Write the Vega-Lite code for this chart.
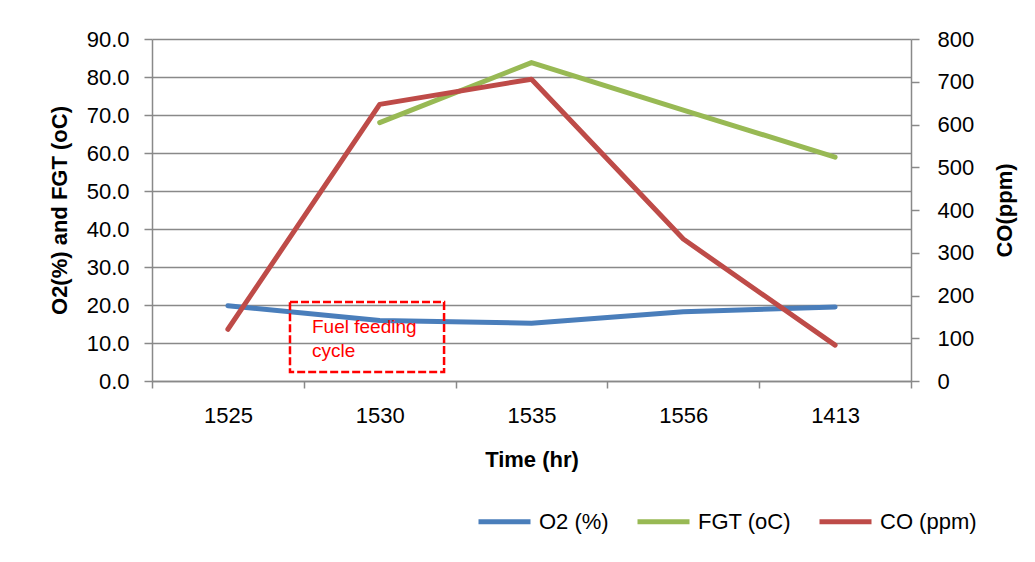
{
  "$schema": "https://vega.github.io/schema/vega-lite/v6.json",
  "width": 759,
  "height": 342,
  "autosize": {"type": "none"},
  "padding": {"left": 152, "top": 39, "right": 124, "bottom": 181},
  "background": "white",
  "config": {
    "view": {"stroke": null},
    "font": "Liberation Sans",
    "axis": {
      "labelFont": "Liberation Sans",
      "titleFont": "Liberation Sans",
      "labelFontSize": 22,
      "titleFontSize": 22,
      "titleFontWeight": "bold",
      "labelColor": "#000000",
      "titleColor": "#000000",
      "domainColor": "#898989",
      "tickColor": "#898989",
      "gridColor": "#898989",
      "domainWidth": 1.5,
      "tickWidth": 1.5,
      "gridWidth": 1.5
    },
    "legend": {"labelFont": "Liberation Sans", "labelColor": "#000000"}
  },
  "datasets": {
    "series": [
      {"time": "1525", "series": "O2 (%)", "value": 19.8},
      {"time": "1530", "series": "O2 (%)", "value": 15.9},
      {"time": "1535", "series": "O2 (%)", "value": 15.2},
      {"time": "1556", "series": "O2 (%)", "value": 18.2},
      {"time": "1413", "series": "O2 (%)", "value": 19.5},
      {"time": "1530", "series": "FGT (oC)", "value": 68.0},
      {"time": "1535", "series": "FGT (oC)", "value": 83.8},
      {"time": "1556", "series": "FGT (oC)", "value": 71.3},
      {"time": "1413", "series": "FGT (oC)", "value": 58.9},
      {"time": "1525", "series": "CO (ppm)", "value": 121},
      {"time": "1530", "series": "CO (ppm)", "value": 647},
      {"time": "1535", "series": "CO (ppm)", "value": 706},
      {"time": "1556", "series": "CO (ppm)", "value": 332},
      {"time": "1413", "series": "CO (ppm)", "value": 84}
    ],
    "box": [
      {"x1": 0.909, "x2": 1.924, "y1": 20.8, "y2": 2.37}
    ],
    "note": [
      {"tx": 1.054, "ty": 12.6, "label": "Fuel feeding"},
      {"tx": 1.054, "ty": 6.2, "label": "cycle"}
    ]
  },
  "layer": [
    {
      "data": {"name": "series"},
      "transform": [{"filter": "datum.series !== 'CO (ppm)'"}],
      "mark": {"type": "line", "strokeWidth": 5, "strokeCap": "round", "strokeJoin": "round"},
      "encoding": {
        "x": {
          "field": "time", "type": "ordinal",
          "sort": ["1525", "1530", "1535", "1556", "1413"],
          "scale": {"type": "band", "paddingInner": 0, "paddingOuter": 0},
          "bandPosition": 0.5,
          "axis": {
            "title": "Time (hr)", "tickBand": "extent", "tickSize": 7,
            "labelPadding": 17, "labelAngle": 0, "grid": false,
            "titleY": 85, "titleBaseline": "alphabetic"
          }
        },
        "y": {
          "field": "value", "type": "quantitative",
          "scale": {"domain": [0, 90], "nice": false},
          "axis": {
            "title": "O2(%) and FGT (oC)",
            "values": [0, 10, 20, 30, 40, 50, 60, 70, 80, 90],
            "format": ".1f", "grid": true, "tickSize": 8, "labelPadding": 15,
            "titleAngle": -90, "titleX": -93, "titleY": 171,
            "titleBaseline": "middle", "titleAlign": "center"
          }
        },
        "color": {
          "field": "series", "type": "nominal",
          "scale": {"domain": ["O2 (%)", "FGT (oC)", "CO (ppm)"], "range": ["#4A7EBB", "#98B954", "#BE4B48"]},
          "legend": {
            "orient": "none", "legendX": 324, "legendY": 454, "direction": "horizontal",
            "title": null, "symbolType": "stroke", "symbolSize": 2704, "symbolStrokeWidth": 5,
            "labelFontSize": 22, "labelOffset": 6, "columnPadding": 18
          }
        },
        "order": {"value": null}
      }
    },
    {
      "data": {"name": "series"},
      "transform": [{"filter": "datum.series === 'CO (ppm)'"}],
      "mark": {"type": "line", "strokeWidth": 5, "strokeCap": "round", "strokeJoin": "round"},
      "encoding": {
        "x": {
          "field": "time", "type": "ordinal",
          "sort": ["1525", "1530", "1535", "1556", "1413"],
          "scale": {"type": "band", "paddingInner": 0, "paddingOuter": 0},
          "bandPosition": 0.5,
          "axis": null
        },
        "y": {
          "field": "value", "type": "quantitative",
          "scale": {"domain": [0, 800], "nice": false},
          "axis": {
            "orient": "right", "title": "CO(ppm)",
            "values": [0, 100, 200, 300, 400, 500, 600, 700, 800],
            "format": "d", "grid": false, "tickSize": 8, "labelPadding": 18,
            "titleAngle": -90, "titleX": 93, "titleY": 171,
            "titleBaseline": "middle", "titleAlign": "center"
          }
        },
        "color": {"field": "series", "type": "nominal"},
        "order": {"value": null}
      }
    },
    {
      "data": {"name": "box"},
      "mark": {"type": "rect", "fill": null, "stroke": "#FF0000", "strokeWidth": 2.5, "strokeDash": [8, 3]},
      "encoding": {
        "x": {"field": "x1", "type": "quantitative", "scale": {"domain": [0, 5], "nice": false, "zero": false}, "axis": null},
        "x2": {"field": "x2"},
        "y": {"field": "y1", "type": "quantitative", "scale": {"domain": [0, 90], "nice": false}, "axis": null},
        "y2": {"field": "y2"}
      }
    },
    {
      "data": {"name": "note"},
      "mark": {"type": "text", "align": "left", "baseline": "alphabetic", "color": "#FF0000", "fontSize": 19, "font": "Liberation Sans"},
      "encoding": {
        "x": {"field": "tx", "type": "quantitative", "scale": {"domain": [0, 5], "nice": false, "zero": false}, "axis": null},
        "y": {"field": "ty", "type": "quantitative", "scale": {"domain": [0, 90], "nice": false}, "axis": null},
        "text": {"field": "label"}
      }
    }
  ],
  "resolve": {"scale": {"x": "independent", "y": "independent"}}
}
